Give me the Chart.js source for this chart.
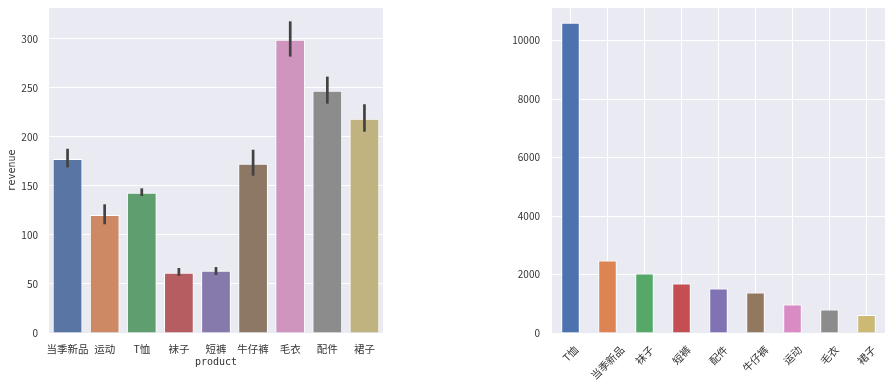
<!DOCTYPE html>
<html><head><meta charset="utf-8">
<script src="https://cdn.jsdelivr.net/npm/chart.js@4"></script>
<style>
html,body{margin:0;padding:0;background:#fff;}
#wrap{position:relative;width:892px;height:388px;overflow:hidden;}
#c1{position:absolute;left:0;top:0;}
#c2{position:absolute;left:500px;top:0;}
</style></head><body>
<div id="wrap">
<canvas id="c1" width="390" height="388"></canvas>
<canvas id="c2" width="392" height="388"></canvas>
</div>
<script>
// ---- data ----
const leftCategories = ['当季新品','运动','T恤','袜子','短裤','牛仔裤','毛衣','配件','裙子'];
const leftRevenue = [177.6, 120.4, 143.2, 61.5, 63.6, 172.8, 299.3, 247.2, 218.7];
const leftErrLow  = [169.0, 110.9, 139.8, 58.2, 59.2, 160.5, 282.0, 234.0, 205.4];
const leftErrHigh = [188.0, 131.3, 147.6, 66.3, 67.3, 187.0, 318.0, 261.6, 233.4];
const leftYTicks = [0, 50, 100, 150, 200, 250, 300];

const rightCategories = ['T恤','当季新品','袜子','短裤','配件','牛仔裤','运动','毛衣','裙子'];
const rightCounts = [10612, 2480, 2036, 1695, 1524, 1387, 977, 806, 615];
const rightYTicks = [0, 2000, 4000, 6000, 8000, 10000];

// ---- styles ----
const leftColors = ['#5975a4','#cc8963','#5f9e6e','#b55d60','#857aab','#8d7866','#d095bf','#8c8c8c','#c1b37f'];
const rightColors = ['#4c72b0','#dd8452','#55a868','#c44e52','#8172b3','#937860','#da8bc3','#8c8c8c','#ccb974'];
const FONT = '"Noto Sans CJK SC", "Noto Sans", sans-serif';
const TXT = '#333333';

const bgPlugin = {
  id: 'bg',
  beforeDraw(chart) {
    const {ctx, chartArea: a} = chart;
    ctx.save();
    ctx.fillStyle = '#eaeaf2';
    ctx.fillRect(a.left, a.top, a.right - a.left, a.bottom - a.top);
    ctx.restore();
  }
};

const errPlugin = {
  id: 'err',
  afterDatasetsDraw(chart) {
    const {ctx} = chart;
    const xs = chart.scales.x, ys = chart.scales.y;
    ctx.save();
    ctx.strokeStyle = '#424242';
    ctx.lineWidth = 2.7;
    ctx.lineCap = 'butt';
    leftErrLow.forEach((lo, i) => {
      const x = xs.getPixelForValue(i);
      ctx.beginPath();
      ctx.moveTo(x, ys.getPixelForValue(lo));
      ctx.lineTo(x, ys.getPixelForValue(leftErrHigh[i]));
      ctx.stroke();
    });
    ctx.restore();
  }
};

const rotLabelPlugin = {
  id: 'rotLabels',
  afterDraw(chart) {
    const {ctx, chartArea: a} = chart;
    const xs = chart.scales.x;
    const fs = 10.5;
    ctx.save();
    ctx.font = fs + 'px ' + FONT;
    ctx.fillStyle = TXT;
    ctx.textAlign = 'center';
    ctx.textBaseline = 'middle';
    const s = Math.SQRT1_2;
    chart.data.labels.forEach((lab, i) => {
      const w = ctx.measureText(lab).width;
      const bh = (w + fs) * s;
      const x = xs.getPixelForValue(i);
      const y = a.bottom + 11 + bh / 2;
      ctx.save();
      ctx.translate(x, y);
      ctx.rotate(-Math.PI / 4);
      ctx.fillText(lab, 0, 0);
      ctx.restore();
    });
    ctx.restore();
  }
};

const noPadV = (w) => (s) => { s.width = w; s.paddingTop = 0; s.paddingBottom = 0; };
const noPadH = (h) => (s) => { s.height = h; s.paddingLeft = 0; s.paddingRight = 0; };
const plain = (v) => String(v);

new Chart(document.getElementById('c1'), {
  type: 'bar',
  data: {
    labels: leftCategories,
    datasets: [{
      data: leftRevenue,
      backgroundColor: leftColors,
      borderColor: '#ffffff',
      borderWidth: 1,
      barPercentage: 0.8,
      categoryPercentage: 1.0
    }]
  },
  options: {
    responsive: false,
    animation: false,
    devicePixelRatio: 1,
    layout: {padding: {top: 8, right: 7, left: 0, bottom: 0}},
    plugins: {legend: {display: false}, tooltip: {enabled: false}},
    scales: {
      x: {
        grid: {display: false, drawTicks: false},
        border: {display: false},
        ticks: {font: {family: FONT, size: 10.5}, color: TXT, padding: 10, autoSkip: false, minRotation: 0, maxRotation: 0},
        title: {display: true, text: 'product', font: {family: '"DejaVu Sans Mono", monospace', size: 10}, color: TXT, padding: {top: 0, bottom: 19.7}},
        afterFit: noPadH(55)
      },
      y: {
        min: 0, max: 331.6,
        grid: {color: '#ffffff', lineWidth: 1, drawTicks: false},
        border: {display: false},
        ticks: {font: {family: FONT, size: 10}, color: TXT, padding: 11, callback: plain},
        afterBuildTicks(s) { s.ticks = leftYTicks.map(v => ({value: v})); },
        title: {display: true, text: 'revenue', font: {family: '"DejaVu Sans Mono", monospace', size: 10}, color: TXT, padding: {top: 6.7, bottom: 0}},
        afterFit: noPadV(49)
      }
    }
  },
  plugins: [bgPlugin, errPlugin]
});

new Chart(document.getElementById('c2'), {
  type: 'bar',
  data: {
    labels: rightCategories,
    datasets: [{
      data: rightCounts,
      backgroundColor: rightColors,
      borderColor: '#ffffff',
      borderWidth: 1,
      barPercentage: 0.5,
      categoryPercentage: 1.0
    }]
  },
  options: {
    responsive: false,
    animation: false,
    devicePixelRatio: 1,
    layout: {padding: {top: 8, right: 7, left: 0, bottom: 0}},
    plugins: {legend: {display: false}, tooltip: {enabled: false}},
    scales: {
      x: {
        grid: {color: '#ffffff', lineWidth: 1, offset: false, drawTicks: false},
        border: {display: false},
        ticks: {display: false},
        afterFit: noPadH(55)
      },
      y: {
        min: 0, max: 11114,
        grid: {color: '#ffffff', lineWidth: 1, drawTicks: false},
        border: {display: false},
        ticks: {font: {family: FONT, size: 10}, color: TXT, padding: 12, callback: plain},
        afterBuildTicks(s) { s.ticks = rightYTicks.map(v => ({value: v})); },
        afterFit: noPadV(52)
      }
    }
  },
  plugins: [bgPlugin, rotLabelPlugin]
});
</script>
</body></html>
